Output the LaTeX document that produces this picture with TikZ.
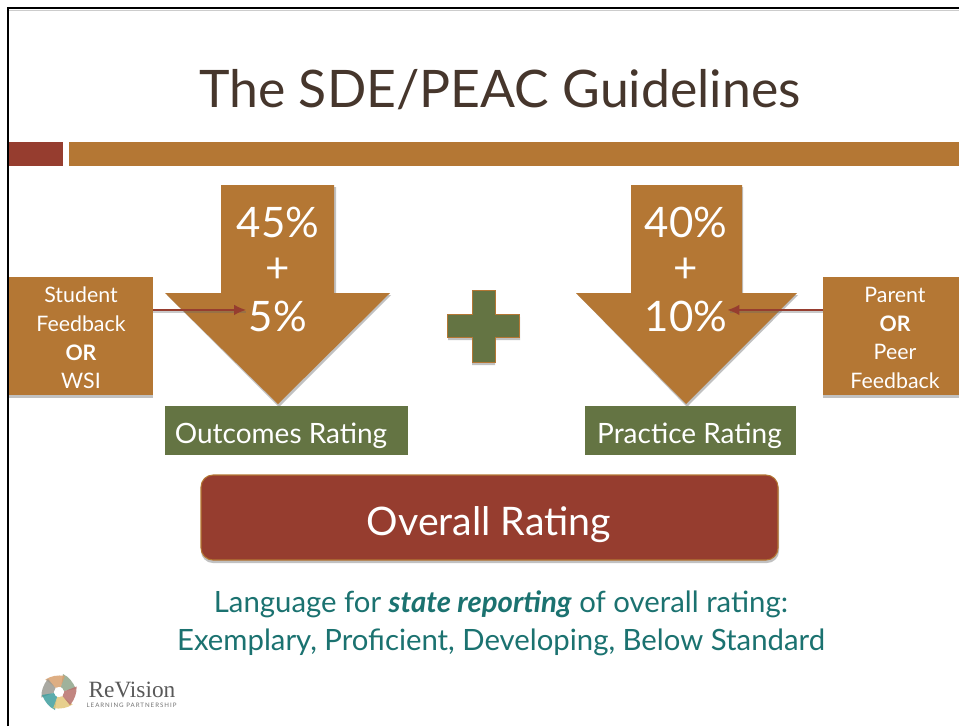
\documentclass[tikz,border=0pt]{standalone}
\usepackage{fontspec}
\setmainfont{Lato}
\newfontfamily\logofont{Liberation Serif}
\usetikzlibrary{calc,arrows.meta}
\definecolor{ochre}{HTML}{B47734}
\definecolor{rust}{HTML}{963D2F}
\definecolor{moss}{HTML}{647443}
\definecolor{teal2}{HTML}{1B7270}
\definecolor{brownink}{HTML}{46362C}
\definecolor{pa}{HTML}{8FA58A}
\definecolor{pb}{HTML}{D9A06E}
\definecolor{pc}{HTML}{9A9A92}
\definecolor{pd}{HTML}{3F9E9E}
\definecolor{pe}{HTML}{E3C77A}
\definecolor{pf}{HTML}{B8716C}
\tikzset{
  px/.style={x=0.75pt,y=-0.75pt},
  blockfill/.style={fill=ochre,draw=none},
  softshadow/.style={fill=black!60,opacity=0.4,draw=none},
  whitetext/.style={text=white,inner sep=0pt,align=center},
  bigtext/.style={whitetext,font=\fontsize{31.5}{31.5}\selectfont},
  sidetext/.style={whitetext,font=\fontsize{16}{21.5}\selectfont},
  ratingbox/.style={fill=moss,inner sep=0pt},
  ratinglabel/.style={text=white,inner sep=0pt,font=\fontsize{21}{21}\selectfont},
  feed/.style={draw=rust,line width=1.2pt,-{Latex[length=9pt,width=8pt]}},
  feedshadow/.style={draw=black!60,opacity=0.35,line width=1.4pt},
  petal/.style={draw=none,opacity=0.85}
}
\begin{document}
\begin{tikzpicture}[px]
\useasboundingbox (0,0) rectangle (959,726);
\fill[white] (0,0) rectangle (959,726);
% frame
\draw[black,line width=1.5pt] (8,726) -- (8,8) -- (959,8);
\draw[black!20,line width=0.6pt] (9,10) -- (959,10);
% title
\node[text=brownink,inner sep=0pt,font=\fontsize{38.8}{40}\selectfont] (title) at (500,90) {The SDE/PEAC Guidelines};
% bars
\fill[rust] (9,142) rectangle (63,166);
\fill[ochre] (69,142) rectangle (959,166);
% arrows: shadows
\fill[softshadow] (223,187) -- (336,187) -- (336,295) -- (391,295) -- (279,407) -- (167,295) -- (223,295) -- cycle;
\fill[softshadow] (633,187) -- (743,187) -- (743,295) -- (798,295) -- (687,407) -- (578,295) -- (633,295) -- cycle;
% down arrows
\fill[blockfill] (221,185) -- (334,185) -- (334,293) -- (390,293) -- (278,404) -- (165,293) -- (221,293) -- cycle;
\fill[blockfill] (631,185) -- (742,185) -- (742,293) -- (797,293) -- (686,404) -- (576,293) -- (631,293) -- cycle;
% side boxes
\fill[softshadow] (9,279) rectangle (153,398);
\fill[softshadow] (823,279) rectangle (959,398);
\node[blockfill,minimum width=144*0.75pt,minimum height=118*0.75pt,inner sep=0pt] (student) at (81,336) {};
\node[sidetext] (studenttext) at (81,338) {Student\\Feedback\\\textbf{OR}\\WSI};
\node[blockfill,minimum width=136*0.75pt,minimum height=118*0.75pt,inner sep=0pt] (parent) at (891,336) {};
\node[sidetext] (parenttext) at (895,338) {Parent\\\textbf{OR}\\Peer\\Feedback};
% big texts
\node[bigtext] (a45) at (278,222) {45\%};
\node[bigtext] (aplus) at (278,270) {+};
\node[bigtext] (a5) at (278,316) {5\%};
\node[bigtext] (b40) at (686,222) {40\%};
\node[bigtext] (bplus) at (686,270) {+};
\node[bigtext] (b10) at (686,316) {10\%};
% connectors
\coordinate (sout) at ($(student.north east)!0.28!(student.south east)$);
\coordinate (pout) at ($(parent.north west)!0.28!(parent.south west)$);
\draw[feedshadow] ([yshift=-1.6pt]sout) -- ([yshift=-1.6pt,xshift=-2pt]a5.west |- sout);
\draw[feedshadow] ([yshift=-1.6pt]pout) -- ([yshift=-1.6pt,xshift=2pt]b10.east |- pout);
\draw[feed,shorten >=2pt] (sout) -- (a5.west |- sout);
\draw[feed] (pout) -- (b10.east |- pout);
% plus
\fill[softshadow] (472,293) -- (495,293) -- (495,317) -- (520,317) -- (520,340) -- (495,340) -- (495,365) -- (472,365) -- (472,340) -- (448,340) -- (448,317) -- (472,317) -- cycle;
\filldraw[fill=moss,draw=ochre,line width=0.6pt] (472,290) -- (495,290) -- (495,314) -- (519.5,314) -- (519.5,337) -- (495,337) -- (495,362) -- (472,362) -- (472,337) -- (447.5,337) -- (447.5,314) -- (472,314) -- cycle;
% ratings
\node[ratingbox,minimum width=243*0.75pt,minimum height=49*0.75pt] (outcomes) at (286.5,430.5) {};
\node[ratinglabel] (outcomestext) at (281,436) {Outcomes Rating};
\node[ratingbox,minimum width=211*0.75pt,minimum height=49*0.75pt] (practice) at (690.5,430.5) {};
\node[ratinglabel] (practicetext) at (689.5,436) {Practice Rating};
% overall
\fill[softshadow,rounded corners=9pt] (201,478) rectangle (779,563);
\node[fill=rust,draw=ochre,line width=0.8pt,rounded corners=9pt,minimum width=577*0.75pt,minimum height=85*0.75pt,inner sep=0pt] (overall) at (489.5,517.5) {};
\node[text=white,inner sep=0pt,font=\fontsize{29.5}{29.5}\selectfont] (overalltext) at (489,525) {Overall Rating};
% language
\node[text=teal2,inner sep=0pt,align=center,font=\fontsize{22}{28.5}\selectfont] (lang) at (501,623) {Language for \textbf{\textit{state reporting}} of overall rating:\\Exemplary, Proficient, Developing, Below Standard};
% logo
\begin{scope}[shift={(59,692)}]
\foreach \ang/\col in {0/pa,60/pb,120/pc,180/pd,240/pe,300/pf}{
  \fill[petal,fill=\col,rotate=\ang] (2,-5) -- (4,-18) .. controls (10,-15) and (14,-10) .. (17,-3) -- (5,-1) -- cycle;
}
\fill[white] (0,0) circle (5);
\end{scope}
\node[inner sep=0pt,text=black!65,font=\logofont\fontsize{17.5}{18}\selectfont] (logo) at (132,689.5) {ReVision};
\node[inner sep=0pt,text=black!55,font=\addfontfeature{LetterSpace=16}\fontsize{4.6}{5}\selectfont] (logosub) at (131.5,705) {LEARNING PARTNERSHIP};
\end{tikzpicture}
\end{document}
